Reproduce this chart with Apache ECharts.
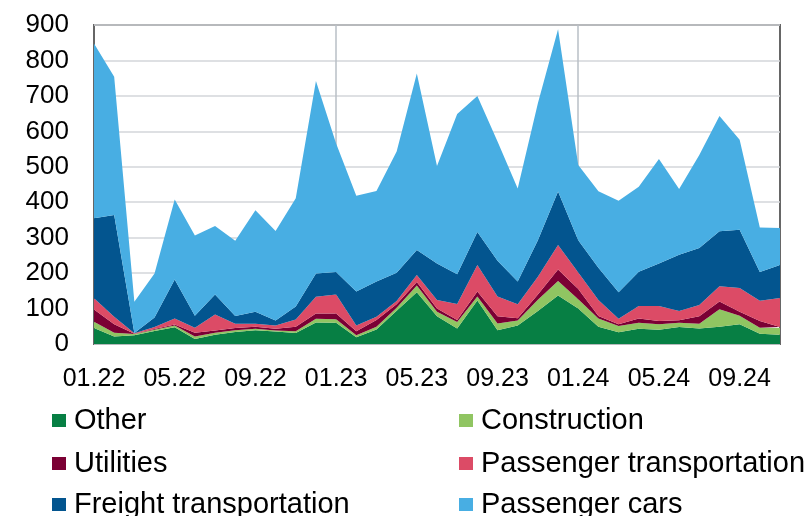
<!DOCTYPE html>
<html>
<head>
<meta charset="utf-8">
<script src="https://cdn.jsdelivr.net/npm/echarts@6/dist/echarts.min.js"></script>
<style>
  html, body { margin: 0; padding: 0; background: #fff; }
  #chart { width: 810px; height: 516px; }
</style>
</head>
<body>
<div id="chart"></div>
<script>
// months 01.22 .. 11.24
var months = [
  "01.22", "02.22", "03.22", "04.22", "05.22", "06.22", "07.22", "08.22", "09.22", "10.22", "11.22", "12.22",
  "01.23", "02.23", "03.23", "04.23", "05.23", "06.23", "07.23", "08.23", "09.23", "10.23", "11.23", "12.23",
  "01.24", "02.24", "03.24", "04.24", "05.24", "06.24", "07.24", "08.24", "09.24", "10.24", "11.24"
];

var other = [45, 21, 25, 37, 47, 14, 26, 34, 39, 35, 31, 61, 60, 19, 41, 94, 146, 78, 44, 123, 39, 52, 93, 137, 100, 49, 33, 43, 40, 48, 44, 49, 56, 29, 26];
var construction = [18, 11, 3, 3, 5, 7, 6, 5, 4, 3, 5, 10, 10, 6, 8, 8, 19, 13, 18, 11, 19, 14, 32, 41, 26, 23, 18, 17, 16, 12, 13, 49, 24, 17, 19];
var utilities = [34, 24, 1, 2, 3, 11, 6, 6, 6, 5, 13, 15, 16, 11, 19, 10, 10, 9, 6, 14, 20, 7, 15, 32, 29, 7, 5, 12, 9, 7, 21, 22, 11, 19, 3];
var passengerTransport = [32, 21, 1, 6, 17, 14, 45, 12, 8, 9, 20, 47, 54, 16, 9, 9, 20, 24, 45, 75, 56, 39, 50, 69, 47, 45, 15, 35, 42, 26, 32, 43, 67, 57, 82];
var freightTransport = [226, 287, 1, 27, 110, 34, 57, 22, 34, 14, 37, 66, 63, 96, 99, 80, 70, 103, 84, 93, 101, 64, 103, 151, 91, 91, 75, 97, 120, 159, 161, 155, 164, 81, 93];
var passengerCars = [493, 390, 88, 124, 226, 226, 193, 212, 286, 253, 305, 543, 363, 270, 256, 342, 498, 275, 452, 384, 336, 263, 386, 458, 212, 216, 258, 240, 295, 185, 262, 325, 254, 126, 104];

var names = ["Other", "Construction", "Utilities", "Passenger transportation", "Freight transportation", "Passenger cars"];
var colors = ["#077f44", "#90c562", "#7b0034", "#dc4b66", "#03558f", "#48aee3"];
var values = [other, construction, utilities, passengerTransport, freightTransport, passengerCars];

var font = "'Liberation Sans', Arial, sans-serif";
var yearTicks = function (idx) { return idx === 12 || idx === 24; };

var chart = echarts.init(document.getElementById("chart"));

var series = [];
var legends = [];
var rowTop = [406, 449, 490];
for (var i = 0; i < names.length; i++) {
  series.push({
    name: names[i],
    type: "line",
    stack: "total",
    data: values[i],
    symbol: "none",
    showSymbol: false,
    lineStyle: { width: 0, color: colors[i] },
    itemStyle: { color: colors[i] },
    areaStyle: { color: colors[i], opacity: 1 },
    emphasis: { disabled: true },
    animation: false
  });
  // one legend per item: two columns, three rows
  legends.push({
    data: [names[i]],
    left: i % 2 === 0 ? 52 : 459,
    top: rowTop[Math.floor(i / 2)],
    padding: 0,
    itemWidth: 14,
    itemHeight: 13,
    icon: "rect",
    selectedMode: false,
    textStyle: { fontFamily: font, fontSize: 29, color: "#000", lineHeight: 28, padding: [0, 0, 0, 3] }
  });
}

var option = {
  animation: false,
  color: colors,
  grid: {
    left: 94,
    right: 30,
    top: 25,
    bottom: 172,
    show: true,
    borderColor: "#666",
    borderWidth: 2,
    backgroundColor: "transparent"
  },
  legend: legends,
  xAxis: {
    type: "category",
    data: months,
    boundaryGap: false,
    axisLine: { show: false },
    axisTick: { show: true, inside: true, length: 5, interval: yearTicks, lineStyle: { color: "#666", width: 2 } },
    splitLine: { show: true, interval: yearTicks, lineStyle: { color: "#b9bfc6", width: 1.5 } },
    axisLabel: { interval: 3, margin: 23, fontFamily: font, fontSize: 25, color: "#000" }
  },
  yAxis: {
    type: "value",
    min: 0,
    max: 900,
    interval: 100,
    axisLine: { show: false },
    axisTick: { show: false },
    splitLine: { show: true, lineStyle: { color: "#d3d6da", width: 1.5 } },
    axisLabel: { margin: 25, fontFamily: font, fontSize: 26, color: "#000" }
  },
  series: series
};

chart.setOption(option);
</script>
</body>
</html>
